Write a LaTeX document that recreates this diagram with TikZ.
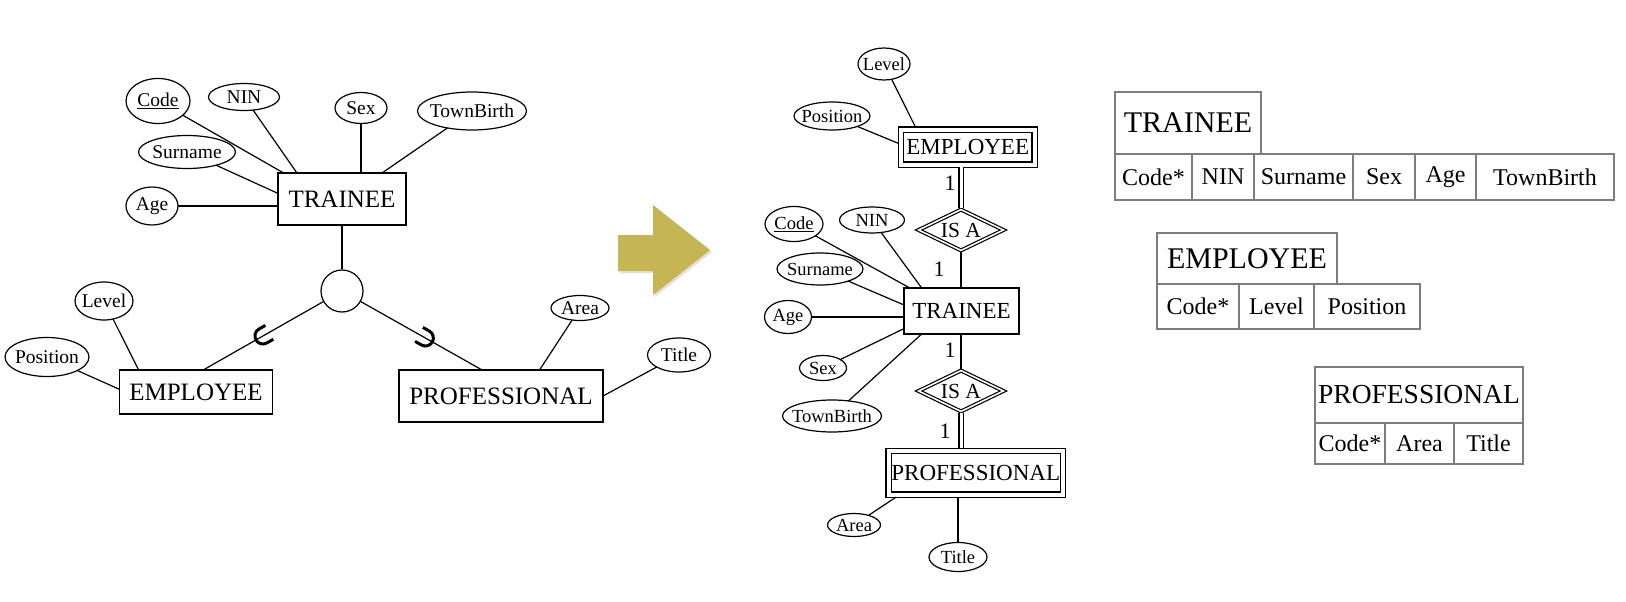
\documentclass[tikz,border=0pt]{standalone}
\usepackage{fontspec}
\setmainfont{Liberation Serif}
\usetikzlibrary{positioning,shapes.geometric}
\definecolor{gold}{RGB}{197,181,84}
\definecolor{tabline}{RGB}{125,125,125}

\begin{document}
\begin{tikzpicture}[x=1pt, y=-1pt, line width=1.2pt,
    attr/.style={draw, ellipse, inner xsep=-4pt, inner ysep=0pt, outer sep=0pt, font=\fontsize{19.5}{20}\selectfont},
    mattr/.style={attr, inner xsep=-5pt, font=\fontsize{18.5}{19}\selectfont},
    ent/.style={draw, rectangle, inner sep=0pt, outer sep=0pt, font=\fontsize{25}{26}\selectfont},
    ment/.style={ent, font=\fontsize{23}{24}\selectfont},
    went/.style={ment, double, double distance=4pt, outer sep=2.6pt},
    isa/.style={draw, diamond, aspect=2, double, double distance=1.6pt, inner sep=0pt, outer sep=1.4pt, minimum width=86pt, minimum height=42pt, font=\fontsize{21.5}{22}\selectfont},
    card/.style={inner sep=0pt, font=\fontsize{22}{22}\selectfont},
    dbl/.style={double, double distance=3pt},
    subset/.style={line width=3pt},
    thead/.style={draw=tabline, line width=1.5pt, inner sep=0pt, outer sep=0pt, anchor=north west, font=\fontsize{30}{30}\selectfont},
    tcell/.style={draw=tabline, line width=1.5pt, inner sep=0pt, outer sep=0pt, font=\fontsize{24}{24}\selectfont}
  ]
  \useasboundingbox (0,0) rectangle (1626,602);

  % generalisation
  \node[ent, minimum width=128pt, minimum height=52pt] (tr) at (342,199) {TRAINEE};
  \node[attr, minimum width=64pt, minimum height=45pt] (code) at (158,101) {\underline{Code}};
  \node[attr, minimum width=71pt, minimum height=27pt] (nin) at (244,97) {NIN};
  \node[attr, minimum width=52pt, minimum height=31pt] (sex) at (361,108) {Sex};
  \node[attr, minimum width=109pt, minimum height=38pt] (town) at (472,111) {TownBirth};
  \node[attr, minimum width=97pt, minimum height=33pt] (sur) at (187,152) {Surname};
  \node[attr, minimum width=52pt, minimum height=38pt] (age) at (152,206) {Age};
  \node[draw, circle, minimum size=42pt, inner sep=0pt] (gen) at (342,291) {};
  \node[ent, minimum width=153pt, minimum height=44pt] (emp) at (196,392) {EMPLOYEE};
  \node[ent, minimum width=204pt, minimum height=52pt] (prof) at (501,396) {PROFESSIONAL};
  \node[attr, minimum width=58pt, minimum height=38pt] (lev) at (104,301) {Level};
  \node[attr, minimum width=84pt, minimum height=39pt] (pos) at (47,357) {Position};
  \node[attr, minimum width=58pt, minimum height=25pt] (area) at (580,308) {Area};
  \node[attr, minimum width=63pt, minimum height=34pt] (title) at (679,355) {Title};

  \draw (code) -- (tr.156);
  \draw (nin) -- (tr.150);
  \draw (sex) -- (sex |- tr.north);
  \draw (town) -- (tr.33);
  \draw (sur) -- (tr.175);
  \draw (age) -- (age -| tr.west);
  \draw (tr) -- (gen);
  \draw (gen) -- (emp.72) coordinate[pos=0.5] (cupl);
  \draw (gen) -- (prof.126) coordinate[pos=0.53] (cupr);
  \draw (lev) -- (emp.159);
  \draw (pos) -- (emp.178);
  \draw (area) -- (prof.34);
  \draw (title) -- (prof.east);
  \draw[subset, shift={(cupl)}, rotate=-60.4] (-8,-7) -- (-8,0) .. controls (-8,11) and (8,11) .. (8,0) -- (8,-7);
  \draw[subset, shift={(cupr)}, rotate=60.6] (-8,-7) -- (-8,0) .. controls (-8,11) and (8,11) .. (8,0) -- (8,-7);

  % arrow
  \fill[black, opacity=0.12] (620,237) -- (655,237) -- (655,207) -- (712,252) -- (655,297) -- (655,273) -- (620,273) -- cycle;
  \fill[gold] (618,235) -- (653,235) -- (653,205) -- (710,250) -- (653,295) -- (653,271) -- (618,271) -- cycle;

  % restructured schema
  \node[went, minimum width=133.5pt, minimum height=35pt] (memp) at (967.75,147) {EMPLOYEE};
  \node[mattr, minimum width=52pt, minimum height=32pt] (mlev) at (884,64) {Level};
  \node[mattr, minimum width=76pt, minimum height=28pt] (mpos) at (832,116) {Position};
  \node[isa] (misa1) at (961,230) {IS A};
  \node[card] (c1) at (950,183) {1};
  \node[ment, minimum width=115pt, minimum height=46pt] (mtr) at (961.5,311) {TRAINEE};
  \node[card] (c2) at (939,269) {1};
  \node[mattr, minimum width=58pt, minimum height=35pt] (mcode) at (794,224) {\underline{Code}};
  \node[mattr, minimum width=65pt, minimum height=26pt] (mnin) at (872,220) {NIN};
  \node[mattr, minimum width=86pt, minimum height=32pt] (msur) at (820,269) {Surname};
  \node[mattr, minimum width=47pt, minimum height=33pt] (mage) at (788,317) {Age};
  \node[mattr, minimum width=47pt, minimum height=25pt] (msex) at (823,368) {Sex};
  \node[mattr, minimum width=99pt, minimum height=32pt] (mtown) at (832,416) {TownBirth};
  \node[card] (c3) at (950,350) {1};
  \node[isa] (misa2) at (961,391) {IS A};
  \node[card] (c4) at (945,431) {1};
  \node[went, minimum width=174.5pt, minimum height=43.5pt] (mprof) at (975.75,472.75) {PROFESSIONAL};
  \node[mattr, minimum width=53pt, minimum height=23pt] (marea) at (854,525) {Area};
  \node[mattr, minimum width=58pt, minimum height=29pt] (mtitle) at (958,557) {Title};

  \draw (mlev) -- (memp.159);
  \draw (mpos) -- (memp.177);
  \draw[dbl] (memp.south -| misa1.north) -- (misa1.north);
  \draw (misa1.south) -- (misa1.south |- mtr.north);
  \draw (mtr.south -| misa2.north) -- (misa2.north);
  \draw[dbl] (misa2.south) -- (misa2.south |- mprof.north);
  \draw (mtitle) -- (mtitle |- mprof.south);
  \draw (marea) -- (mprof.197);
  \draw (mcode) -- (mtr.156);
  \draw (mnin) -- (mtr.150);
  \draw (msur) -- (mtr.174);
  \draw (mage) -- (mage -| mtr.west);
  \draw (msex) -- (mtr.197);
  \draw (mtown) -- (mtr.210);

  % tables
  \node[thead, minimum width=146pt, minimum height=62pt] (ttr) at (1115,92) {TRAINEE};
  \node[tcell, minimum width=77pt, minimum height=46pt, anchor=north west] (ttr1) at (ttr.south west) {Code*};
  \node[tcell, minimum width=62pt, minimum height=46pt, right=0pt of ttr1] (ttr2) {NIN};
  \node[tcell, minimum width=99pt, minimum height=46pt, right=0pt of ttr2] (ttr3) {Surname};
  \node[tcell, minimum width=62pt, minimum height=46pt, right=0pt of ttr3] (ttr4) {Sex};
  \node[tcell, minimum width=61pt, minimum height=46pt, right=0pt of ttr4] (ttr5) {Age};
  \node[tcell, minimum width=138pt, minimum height=46pt, right=0pt of ttr5] (ttr6) {TownBirth};

  \node[thead, minimum width=180pt, minimum height=51pt] (temp) at (1157,233) {EMPLOYEE};
  \node[tcell, minimum width=82pt, minimum height=45pt, anchor=north west] (temp1) at (temp.south west) {Code*};
  \node[tcell, minimum width=75pt, minimum height=45pt, right=0pt of temp1] (temp2) {Level};
  \node[tcell, minimum width=106pt, minimum height=45pt, right=0pt of temp2] (temp3) {Position};

  \node[thead, minimum width=208pt, minimum height=56pt, font=\fontsize{27.5}{28}\selectfont] (tprof) at (1315,367) {PROFESSIONAL};
  \node[tcell, minimum width=70pt, minimum height=41pt, anchor=north west] (tprof1) at (tprof.south west) {Code*};
  \node[tcell, minimum width=69pt, minimum height=41pt, right=0pt of tprof1] (tprof2) {Area};
  \node[tcell, minimum width=69pt, minimum height=41pt, right=0pt of tprof2] (tprof3) {Title};
\end{tikzpicture}
\end{document}
